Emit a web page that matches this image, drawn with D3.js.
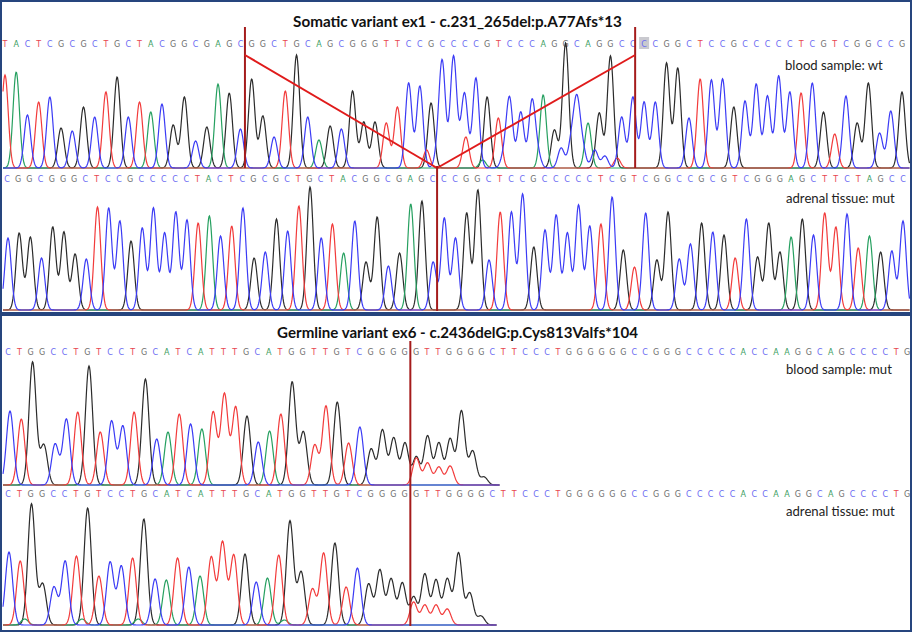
<!DOCTYPE html>
<html lang="en">
<head>
<meta charset="UTF-8">
<title>Sanger traces</title>
<script src="https://cdnjs.cloudflare.com/ajax/libs/d3/7.8.5/d3.min.js"></script>
<style>
    body { margin: 0; background: #fff; }
    svg { display: block; font-family: Lato, "Open Sans", sans-serif; }
</style>
</head>
<body>
<div id="chart"></div>
<script>
// ---- data ----
const titles = [
    "Somatic variant ex1 - c.231_265del:p.A77Afs*13",
    "Germline variant ex6 - c.2436delG:p.Cys813Valfs*104"
];
const sampleLabels = ["blood sample: wt", "adrenal tissue: mut", "blood sample: mut", "adrenal tissue: mut"];

// base calls shown above each trace
const seqSomaticBlood   = "TACTCGCGCTGCTACGGCGAGCGGCTGCAGCGGGTTCCGCCCCGTCCCAGGCAGGCCCCGGCTCCGCCCCCTCGTCGGCCG";
const seqSomaticAdrenal = "CGGCGGGCTCCGCCCCCTACTCGCGCTGCTACGGCGAGCCCGGCTCCGCCCCCTCGTCGGCCGCGTCGGGAGCTTCTAGCC";
const seqGermline       = "CTGGCCTGTCCTGCATCATTTGCATGGTTGTCGGGGGTTGGGGCTTCCCTGGGGGGCCGGGCCCCCACCAAGGCAGCCCCTG";
const highlightedCall = 57;          // grey-boxed call in the first row

// peak heights (signal units) per called base
const heightsSomaticBlood = [93, 96, 53, 66, 71, 40, 37, 61, 51, 76, 91, 51, 66, 56, 64, 43, 71, 27, 41, 84,
    75, 39, 89, 52, 31, 77, 113, 51, 28, 42, 39, 77, 46, 46, 45, 61, 85, 82, 65, 103,
    111, 71, 90, 71, 50, 69, 56, 66, 73, 38, 125, 64, 45, 55, 112, 51, 71, 66, 66, 105,
    100, 50, 89, 88, 89, 61, 67, 84, 72, 92, 76, 75, 85, 56, 34, 72, 45, 85, 35, 57, 76];
const heightsSomaticAdrenal = [72, 77, 73, 52, 83, 78, 56, 51, 103, 102, 89, 69, 82, 102, 77, 98, 90, 87, 94, 74,
    84, 102, 52, 58, 91, 79, 104, 123, 72, 86, 57, 89, 48, 93, 44, 57, 106, 109, 48, 92,
    72, 97, 120, 50, 98, 98, 116, 63, 80, 95, 77, 105, 84, 86, 113, 60, 43, 97, 50, 98,
    51, 66, 87, 78, 75, 52, 91, 53, 87, 58, 73, 91, 75, 97, 83, 96, 62, 74, 58, 59, 89];
// mixed background signal under the wild-type trace: [position, base, height]
const minorSomaticBlood = [[37.6, "T", 18], [38.6, "C", 14], [40.6, "C", 10], [41.1, "T", 31], [42.6, "A", 8],
    [44.5, "C", 12], [47.5, "C", 14], [49.6, "C", 20], [50.5, "C", 25], [51.5, "C", 20], [52.6, "C", 18],
    [53.5, "C", 12], [54.6, "T", 10]];

// germline traces stop after 43 peaks
const peaksGermline = "CTGGCCTGTCCTGCATCATTTGCATGGTTGTCGGGGGGGGGGG";
const heightsGermlineBlood = [74, 66, 123, 40, 41, 66, 73, 119, 53, 64, 59, 73, 106, 46, 53, 71, 61, 56, 73, 91,
    78, 69, 43, 54, 71, 103, 53, 40, 79, 83, 42, 58, 36, 55, 47, 42, 28, 49, 42, 46, 74, 34, 8];
const heightsGermlineAdrenal = [73, 64, 121, 41, 38, 64, 69, 117, 49, 63, 59, 67, 106, 46, 45, 67, 58, 49, 68, 83,
    70, 71, 43, 47, 70, 104, 53, 36, 72, 82, 38, 57, 41, 55, 46, 42, 28, 51, 45, 46, 72, 32, 9];
const minorGermlineBlood = [[36, "T", 27], [37, "T", 22], [38, "T", 18], [39, "T", 19]];
const minorGermlineAdrenal = [[36, "T", 23], [37, "T", 20], [38, "T", 20], [39, "T", 16],
    [1.4, "A", 6], [6.5, "A", 6], [11.5, "A", 6], [24.5, "A", 5]];

// breakpoints, in base-call positions
const somaticDelStart = 21.4;   // blood row
const somaticDelEnd = 56.2;     // blood row
const somaticJunction = 38.4;   // adrenal row
const germlineDel = 35.5;

// ---- drawing ----
const W = 913, H = 633;
const callColor = {A: "#3a9d62", C: "#6a6af2", G: "#6e6e6e", T: "#e8474f"};
const traceColor = {A: "#26a060", C: "#3b3bf5", G: "#2b2b2b", T: "#f23b3b"};

const svg = d3.select("#chart").append("svg")
    .attr("width", W)
    .attr("height", H);

// panel frames
svg.append("rect").attr("x", 1).attr("y", 1).attr("width", 910).attr("height", 312)
    .attr("fill", "none").attr("stroke", "#26457e").attr("stroke-width", 2);
svg.append("rect").attr("x", 1).attr("y", 315).attr("width", 910).attr("height", 316)
    .attr("fill", "none").attr("stroke", "#26457e").attr("stroke-width", 2);

// scale text so it spans the width seen in the picture
function fitText(sel, width) {
    const len = sel.node().getComputedTextLength();
    const size = parseFloat(sel.attr("font-size"));
    sel.attr("font-size", size * width / len);
    return size * width / len;
}

const title1 = svg.append("text").attr("x", 457.5).attr("y", 27).attr("text-anchor", "middle")
    .attr("font-weight", "bold").attr("font-size", 15).attr("fill", "#111").text(titles[0]);
fitText(title1, 329);
const title2 = svg.append("text").attr("x", 457.5).attr("y", 338).attr("text-anchor", "middle")
    .attr("font-weight", "bold").attr("font-size", 15).attr("fill", "#111").text(titles[1]);
fitText(title2, 361);

// sample labels
const labelY = [70, 203, 374, 516];
const lab0 = svg.append("text").attr("x", 785).attr("y", labelY[0]).attr("font-size", 13)
    .attr("fill", "#222").text(sampleLabels[0]);
const labelSize = fitText(lab0, 98);
sampleLabels.slice(1).forEach((t, i) => {
    svg.append("text").attr("x", 786).attr("y", labelY[i + 1]).attr("font-size", labelSize)
        .attr("fill", "#222").text(t);
});

// base-call rows
function drawCalls(seq, x, baseline, highlight) {
    const g = svg.append("g");
    if (highlight != null) {
        g.append("rect").attr("x", x(highlight) - 5).attr("y", baseline - 10)
            .attr("width", 10).attr("height", 12).attr("fill", "#c9c9cf");
    }
    g.selectAll("text").data(seq.split(""))
        .join("text")
        .attr("x", (d, i) => x(i))
        .attr("y", baseline)
        .attr("text-anchor", "middle")
        .attr("font-family", "'DejaVu Sans', sans-serif")
        .attr("font-size", 8)
        .attr("fill", d => callColor[d])
        .text(d => d);
}

const xCalls1 = d3.scaleLinear().domain([0, seqSomaticBlood.length - 1]).range([5, 902]);
const xCalls2 = d3.scaleLinear().domain([0, seqSomaticAdrenal.length - 1]).range([7, 903]);
const xCalls3 = d3.scaleLinear().domain([0, 36, seqGermline.length - 1]).range([8, 416, 907]);

drawCalls(seqSomaticBlood, xCalls1, 47, highlightedCall);
drawCalls(seqSomaticAdrenal, xCalls2, 182);
drawCalls(seqGermline, xCalls3, 355);
drawCalls(seqGermline, xCalls3, 497);

// chromatogram traces: one line per dye
function drawTrace(t) {
    const x = d3.scaleLinear().domain([0, t.heights.length - 1]).range(t.xRange);
    const y = d3.scaleLinear().domain([0, 120]).range([t.baseline, t.baseline - 120]);
    const peaks = t.bases.split("").map((b, i) => ({pos: i, base: b, h: t.heights[i]}))
        .concat((t.minor || []).map(([pos, base, h]) => ({pos, base, h})));
    const s = t.sigma / (x(1) - x(0));
    const xs = d3.range(t.from, t.to, 0.5);
    const line = d3.line();
    ["G", "A", "T", "C"].forEach(base => {
        const ps = peaks.filter(p => p.base === base);
        const pts = xs.map(px => {
            const i = x.invert(px);
            let v = 0;
            ps.forEach(p => {
                const d = (i - p.pos) / s;
                v += p.h * Math.exp(-0.5 * d * d);
            });
            return [px, y(v)];
        });
        svg.append("path")
            .attr("d", line(pts))
            .attr("fill", "none")
            .attr("stroke", traceColor[base])
            .attr("stroke-width", 1.2);
    });
}

drawTrace({bases: seqSomaticBlood, heights: heightsSomaticBlood, minor: minorSomaticBlood,
    xRange: [5, 902], baseline: 168, sigma: 3.2, from: 3, to: 910});
drawTrace({bases: seqSomaticAdrenal, heights: heightsSomaticAdrenal,
    xRange: [8, 903], baseline: 310, sigma: 3.2, from: 3, to: 910});
drawTrace({bases: peaksGermline, heights: heightsGermlineBlood, minor: minorGermlineBlood,
    xRange: [10, 484], baseline: 485, sigma: 3.6, from: 3, to: 500});
drawTrace({bases: peaksGermline, heights: heightsGermlineAdrenal, minor: minorGermlineAdrenal,
    xRange: [9, 481], baseline: 625, sigma: 3.6, from: 3, to: 497});

// deletion markers
const darkRed = "#a51c1c", brightRed = "#e01b1b";
const apexX = xCalls2(somaticJunction);
[somaticDelStart, somaticDelEnd].forEach(p => {
    svg.append("line").attr("x1", xCalls1(p)).attr("x2", xCalls1(p)).attr("y1", 27).attr("y2", 168)
        .attr("stroke", darkRed).attr("stroke-width", 2);
    svg.append("line").attr("x1", xCalls1(p)).attr("y1", 55).attr("x2", apexX).attr("y2", 168)
        .attr("stroke", brightRed).attr("stroke-width", 2);
});
svg.append("line").attr("x1", apexX).attr("x2", apexX).attr("y1", 166).attr("y2", 311)
    .attr("stroke", darkRed).attr("stroke-width", 2);
svg.append("line").attr("x1", xCalls3(germlineDel)).attr("x2", xCalls3(germlineDel))
    .attr("y1", 341).attr("y2", 626)
    .attr("stroke", darkRed).attr("stroke-width", 2);
</script>
</body>
</html>
